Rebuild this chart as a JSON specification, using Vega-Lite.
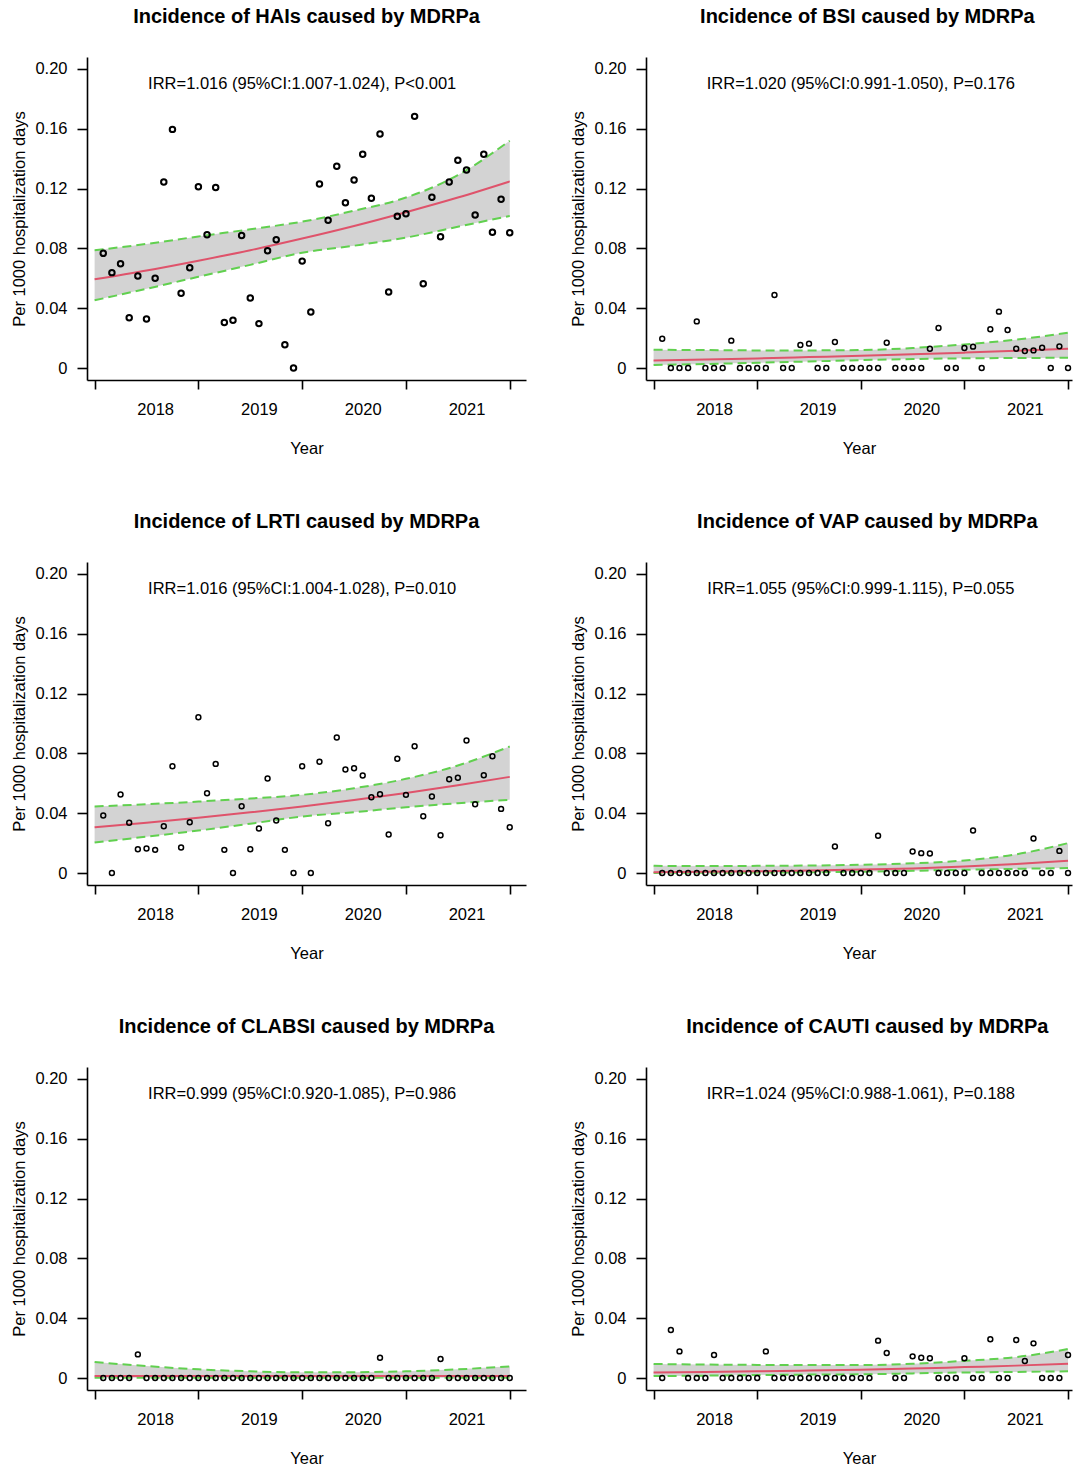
{
"$schema": "https://vega.github.io/schema/vega-lite/v6.json",
"padding": {"top": 7, "left": 11, "right": 0, "bottom": 0},
"background": "white",
"spacing": 44,
"config": {
 "view": {"stroke": null},
 "font": "Liberation Sans",
 "axis": {"grid": false, "domainColor": "black", "tickColor": "black", "domainWidth": 1.6, "tickWidth": 1.6, "labelColor": "black", "labelFontSize": 16.5, "labelFont": "Liberation Sans", "titleFont": "Liberation Sans", "titleFontSize": 16.5, "titleFontWeight": "normal", "titleColor": "black"}
},
"datasets": {"d": [
{"p":"HAIs","k":"a","t":"IRR=1.016 (95%CI:1.007-1.024), P<0.001"},
{"p":"BSI","k":"a","t":"IRR=1.020 (95%CI:0.991-1.050), P=0.176"},
{"p":"LRTI","k":"a","t":"IRR=1.016 (95%CI:1.004-1.028), P=0.010"},
{"p":"VAP","k":"a","t":"IRR=1.055 (95%CI:0.999-1.115), P=0.055"},
{"p":"CLABSI","k":"a","t":"IRR=0.999 (95%CI:0.920-1.085), P=0.986"},
{"p":"CAUTI","k":"a","t":"IRR=1.024 (95%CI:0.988-1.061), P=0.188"},
{"p":"HAIs","k":"f","m":0,"f":0.0593,"lo":0.0453,"hi":0.0787},
{"p":"HAIs","k":"f","m":6,"f":0.0652,"lo":0.0530,"hi":0.0830},
{"p":"HAIs","k":"f","m":12,"f":0.0718,"lo":0.0610,"hi":0.0880},
{"p":"HAIs","k":"f","m":18,"f":0.0788,"lo":0.0690,"hi":0.0928},
{"p":"HAIs","k":"f","m":24,"f":0.0866,"lo":0.0771,"hi":0.0979},
{"p":"HAIs","k":"f","m":30,"f":0.0950,"lo":0.0818,"hi":0.1052},
{"p":"HAIs","k":"f","m":36,"f":0.1042,"lo":0.0872,"hi":0.1140},
{"p":"HAIs","k":"f","m":42,"f":0.1140,"lo":0.0945,"hi":0.1290},
{"p":"HAIs","k":"f","m":48,"f":0.1248,"lo":0.1017,"hi":0.1520},
{"p":"LRTI","k":"f","m":0,"f":0.0306,"lo":0.0204,"hi":0.0445},
{"p":"LRTI","k":"f","m":6,"f":0.0336,"lo":0.0243,"hi":0.0460},
{"p":"LRTI","k":"f","m":12,"f":0.0370,"lo":0.0284,"hi":0.0478},
{"p":"LRTI","k":"f","m":18,"f":0.0406,"lo":0.0330,"hi":0.0498},
{"p":"LRTI","k":"f","m":24,"f":0.0445,"lo":0.0378,"hi":0.0523},
{"p":"LRTI","k":"f","m":30,"f":0.0488,"lo":0.0407,"hi":0.0567},
{"p":"LRTI","k":"f","m":36,"f":0.0535,"lo":0.0440,"hi":0.0630},
{"p":"LRTI","k":"f","m":42,"f":0.0587,"lo":0.0467,"hi":0.0719},
{"p":"LRTI","k":"f","m":48,"f":0.0643,"lo":0.0490,"hi":0.0846},
{"p":"BSI","k":"f","m":0,"f":0.0051,"lo":0.0020,"hi":0.0122},
{"p":"BSI","k":"f","m":6,"f":0.0057,"lo":0.0027,"hi":0.0120},
{"p":"BSI","k":"f","m":12,"f":0.0064,"lo":0.0035,"hi":0.0118},
{"p":"BSI","k":"f","m":18,"f":0.0073,"lo":0.0044,"hi":0.0118},
{"p":"BSI","k":"f","m":24,"f":0.0082,"lo":0.0053,"hi":0.0120},
{"p":"BSI","k":"f","m":30,"f":0.0092,"lo":0.0060,"hi":0.0134},
{"p":"BSI","k":"f","m":36,"f":0.0103,"lo":0.0065,"hi":0.0158},
{"p":"BSI","k":"f","m":42,"f":0.0115,"lo":0.0067,"hi":0.0190},
{"p":"BSI","k":"f","m":48,"f":0.0129,"lo":0.0069,"hi":0.0236},
{"p":"VAP","k":"f","m":0,"f":0.0006,"lo":0.0001,"hi":0.0048},
{"p":"VAP","k":"f","m":6,"f":0.0009,"lo":0.0002,"hi":0.0047},
{"p":"VAP","k":"f","m":12,"f":0.0012,"lo":0.0003,"hi":0.0048},
{"p":"VAP","k":"f","m":18,"f":0.0017,"lo":0.0005,"hi":0.0050},
{"p":"VAP","k":"f","m":24,"f":0.0023,"lo":0.0009,"hi":0.0055},
{"p":"VAP","k":"f","m":30,"f":0.0031,"lo":0.0015,"hi":0.0065},
{"p":"VAP","k":"f","m":36,"f":0.0043,"lo":0.0022,"hi":0.0084},
{"p":"VAP","k":"f","m":42,"f":0.0060,"lo":0.0028,"hi":0.0125},
{"p":"VAP","k":"f","m":48,"f":0.0082,"lo":0.0033,"hi":0.0200},
{"p":"CLABSI","k":"f","m":0,"f":0.0013,"lo":0.0002,"hi":0.0107},
{"p":"CLABSI","k":"f","m":6,"f":0.0013,"lo":0.0002,"hi":0.0080},
{"p":"CLABSI","k":"f","m":12,"f":0.0013,"lo":0.0002,"hi":0.0058},
{"p":"CLABSI","k":"f","m":18,"f":0.0013,"lo":0.0002,"hi":0.0045},
{"p":"CLABSI","k":"f","m":24,"f":0.0013,"lo":0.0002,"hi":0.0038},
{"p":"CLABSI","k":"f","m":30,"f":0.0013,"lo":0.0002,"hi":0.0039},
{"p":"CLABSI","k":"f","m":36,"f":0.0013,"lo":0.0002,"hi":0.0045},
{"p":"CLABSI","k":"f","m":42,"f":0.0013,"lo":0.0002,"hi":0.0058},
{"p":"CLABSI","k":"f","m":48,"f":0.0013,"lo":0.0002,"hi":0.0078},
{"p":"CAUTI","k":"f","m":0,"f":0.0037,"lo":0.0013,"hi":0.0094},
{"p":"CAUTI","k":"f","m":6,"f":0.0041,"lo":0.0016,"hi":0.0090},
{"p":"CAUTI","k":"f","m":12,"f":0.0045,"lo":0.0020,"hi":0.0088},
{"p":"CAUTI","k":"f","m":18,"f":0.0050,"lo":0.0023,"hi":0.0087},
{"p":"CAUTI","k":"f","m":24,"f":0.0055,"lo":0.0025,"hi":0.0087},
{"p":"CAUTI","k":"f","m":30,"f":0.0063,"lo":0.0031,"hi":0.0095},
{"p":"CAUTI","k":"f","m":36,"f":0.0073,"lo":0.0037,"hi":0.0115},
{"p":"CAUTI","k":"f","m":42,"f":0.0083,"lo":0.0041,"hi":0.0140},
{"p":"CAUTI","k":"f","m":48,"f":0.0095,"lo":0.0045,"hi":0.0194},
{"p":"HAIs","k":"o","m":1,"v":0.0767},{"p":"HAIs","k":"o","m":2,"v":0.0638},{"p":"HAIs","k":"o","m":3,"v":0.0698},{"p":"HAIs","k":"o","m":4,"v":0.0337},
{"p":"HAIs","k":"o","m":5,"v":0.0615},{"p":"HAIs","k":"o","m":6,"v":0.0328},{"p":"HAIs","k":"o","m":7,"v":0.0600},{"p":"HAIs","k":"o","m":8,"v":0.1244},
{"p":"HAIs","k":"o","m":9,"v":0.1596},{"p":"HAIs","k":"o","m":10,"v":0.0500},{"p":"HAIs","k":"o","m":11,"v":0.0671},{"p":"HAIs","k":"o","m":12,"v":0.1213},
{"p":"HAIs","k":"o","m":13,"v":0.0892},{"p":"HAIs","k":"o","m":14,"v":0.1208},{"p":"HAIs","k":"o","m":15,"v":0.0305},{"p":"HAIs","k":"o","m":16,"v":0.0319},
{"p":"HAIs","k":"o","m":17,"v":0.0887},{"p":"HAIs","k":"o","m":18,"v":0.0468},{"p":"HAIs","k":"o","m":19,"v":0.0297},{"p":"HAIs","k":"o","m":20,"v":0.0785},
{"p":"HAIs","k":"o","m":21,"v":0.0858},{"p":"HAIs","k":"o","m":22,"v":0.0156},{"p":"HAIs","k":"o","m":23,"v":0},{"p":"HAIs","k":"o","m":24,"v":0.0715},
{"p":"HAIs","k":"o","m":25,"v":0.0375},{"p":"HAIs","k":"o","m":26,"v":0.1231},{"p":"HAIs","k":"o","m":27,"v":0.0988},{"p":"HAIs","k":"o","m":28,"v":0.1349},
{"p":"HAIs","k":"o","m":29,"v":0.1106},{"p":"HAIs","k":"o","m":30,"v":0.1258},{"p":"HAIs","k":"o","m":31,"v":0.1429},{"p":"HAIs","k":"o","m":32,"v":0.1135},
{"p":"HAIs","k":"o","m":33,"v":0.1565},{"p":"HAIs","k":"o","m":34,"v":0.0508},{"p":"HAIs","k":"o","m":35,"v":0.1015},{"p":"HAIs","k":"o","m":36,"v":0.1032},
{"p":"HAIs","k":"o","m":37,"v":0.1683},{"p":"HAIs","k":"o","m":38,"v":0.0564},{"p":"HAIs","k":"o","m":39,"v":0.1142},{"p":"HAIs","k":"o","m":40,"v":0.0878},
{"p":"HAIs","k":"o","m":41,"v":0.1244},{"p":"HAIs","k":"o","m":42,"v":0.1389},{"p":"HAIs","k":"o","m":43,"v":0.1324},{"p":"HAIs","k":"o","m":44,"v":0.1023},
{"p":"HAIs","k":"o","m":45,"v":0.1429},{"p":"HAIs","k":"o","m":46,"v":0.0908},{"p":"HAIs","k":"o","m":47,"v":0.1128},{"p":"HAIs","k":"o","m":48,"v":0.0905},
{"p":"LRTI","k":"o","m":1,"v":0.0385},{"p":"LRTI","k":"o","m":2,"v":0},{"p":"LRTI","k":"o","m":3,"v":0.0525},{"p":"LRTI","k":"o","m":4,"v":0.0336},
{"p":"LRTI","k":"o","m":5,"v":0.0159},{"p":"LRTI","k":"o","m":6,"v":0.0164},{"p":"LRTI","k":"o","m":7,"v":0.0155},{"p":"LRTI","k":"o","m":8,"v":0.0313},
{"p":"LRTI","k":"o","m":9,"v":0.0714},{"p":"LRTI","k":"o","m":10,"v":0.0171},{"p":"LRTI","k":"o","m":11,"v":0.0340},{"p":"LRTI","k":"o","m":12,"v":0.1042},
{"p":"LRTI","k":"o","m":13,"v":0.0534},{"p":"LRTI","k":"o","m":14,"v":0.0730},{"p":"LRTI","k":"o","m":15,"v":0.0155},{"p":"LRTI","k":"o","m":16,"v":0},
{"p":"LRTI","k":"o","m":17,"v":0.0447},{"p":"LRTI","k":"o","m":18,"v":0.0159},{"p":"LRTI","k":"o","m":19,"v":0.0298},{"p":"LRTI","k":"o","m":20,"v":0.0632},
{"p":"LRTI","k":"o","m":21,"v":0.0351},{"p":"LRTI","k":"o","m":22,"v":0.0155},{"p":"LRTI","k":"o","m":23,"v":0},{"p":"LRTI","k":"o","m":24,"v":0.0714},
{"p":"LRTI","k":"o","m":25,"v":0},{"p":"LRTI","k":"o","m":26,"v":0.0744},{"p":"LRTI","k":"o","m":27,"v":0.0333},{"p":"LRTI","k":"o","m":28,"v":0.0906},
{"p":"LRTI","k":"o","m":29,"v":0.0692},{"p":"LRTI","k":"o","m":30,"v":0.0701},{"p":"LRTI","k":"o","m":31,"v":0.0652},{"p":"LRTI","k":"o","m":32,"v":0.0507},
{"p":"LRTI","k":"o","m":33,"v":0.0527},{"p":"LRTI","k":"o","m":34,"v":0.0258},{"p":"LRTI","k":"o","m":35,"v":0.0764},{"p":"LRTI","k":"o","m":36,"v":0.0523},
{"p":"LRTI","k":"o","m":37,"v":0.0848},{"p":"LRTI","k":"o","m":38,"v":0.0380},{"p":"LRTI","k":"o","m":39,"v":0.0512},{"p":"LRTI","k":"o","m":40,"v":0.0253},
{"p":"LRTI","k":"o","m":41,"v":0.0627},{"p":"LRTI","k":"o","m":42,"v":0.0637},{"p":"LRTI","k":"o","m":43,"v":0.0886},{"p":"LRTI","k":"o","m":44,"v":0.0460},
{"p":"LRTI","k":"o","m":45,"v":0.0654},{"p":"LRTI","k":"o","m":46,"v":0.0781},{"p":"LRTI","k":"o","m":47,"v":0.0429},{"p":"LRTI","k":"o","m":48,"v":0.0306},
{"p":"BSI","k":"o","m":1,"v":0.0196},{"p":"BSI","k":"o","m":2,"v":0},{"p":"BSI","k":"o","m":3,"v":0},{"p":"BSI","k":"o","m":4,"v":0},
{"p":"BSI","k":"o","m":5,"v":0.0312},{"p":"BSI","k":"o","m":6,"v":0},{"p":"BSI","k":"o","m":7,"v":0},{"p":"BSI","k":"o","m":8,"v":0},
{"p":"BSI","k":"o","m":9,"v":0.0183},{"p":"BSI","k":"o","m":10,"v":0},{"p":"BSI","k":"o","m":11,"v":0},{"p":"BSI","k":"o","m":12,"v":0},
{"p":"BSI","k":"o","m":13,"v":0},{"p":"BSI","k":"o","m":14,"v":0.0488},{"p":"BSI","k":"o","m":15,"v":0},{"p":"BSI","k":"o","m":16,"v":0},
{"p":"BSI","k":"o","m":17,"v":0.0154},{"p":"BSI","k":"o","m":18,"v":0.0163},{"p":"BSI","k":"o","m":19,"v":0},{"p":"BSI","k":"o","m":20,"v":0},
{"p":"BSI","k":"o","m":21,"v":0.0174},{"p":"BSI","k":"o","m":22,"v":0},{"p":"BSI","k":"o","m":23,"v":0},{"p":"BSI","k":"o","m":24,"v":0},
{"p":"BSI","k":"o","m":25,"v":0},{"p":"BSI","k":"o","m":26,"v":0},{"p":"BSI","k":"o","m":27,"v":0.0169},{"p":"BSI","k":"o","m":28,"v":0},
{"p":"BSI","k":"o","m":29,"v":0},{"p":"BSI","k":"o","m":30,"v":0},{"p":"BSI","k":"o","m":31,"v":0},{"p":"BSI","k":"o","m":32,"v":0.0129},
{"p":"BSI","k":"o","m":33,"v":0.0268},{"p":"BSI","k":"o","m":34,"v":0},{"p":"BSI","k":"o","m":35,"v":0},{"p":"BSI","k":"o","m":36,"v":0.0134},
{"p":"BSI","k":"o","m":37,"v":0.0143},{"p":"BSI","k":"o","m":38,"v":0},{"p":"BSI","k":"o","m":39,"v":0.0259},{"p":"BSI","k":"o","m":40,"v":0.0377},
{"p":"BSI","k":"o","m":41,"v":0.0254},{"p":"BSI","k":"o","m":42,"v":0.0129},{"p":"BSI","k":"o","m":43,"v":0.0114},{"p":"BSI","k":"o","m":44,"v":0.0118},
{"p":"BSI","k":"o","m":45,"v":0.0136},{"p":"BSI","k":"o","m":46,"v":0},{"p":"BSI","k":"o","m":47,"v":0.0145},{"p":"BSI","k":"o","m":48,"v":0},
{"p":"VAP","k":"o","m":1,"v":0},{"p":"VAP","k":"o","m":2,"v":0},{"p":"VAP","k":"o","m":3,"v":0},{"p":"VAP","k":"o","m":4,"v":0},
{"p":"VAP","k":"o","m":5,"v":0},{"p":"VAP","k":"o","m":6,"v":0},{"p":"VAP","k":"o","m":7,"v":0},{"p":"VAP","k":"o","m":8,"v":0},
{"p":"VAP","k":"o","m":9,"v":0},{"p":"VAP","k":"o","m":10,"v":0},{"p":"VAP","k":"o","m":11,"v":0},{"p":"VAP","k":"o","m":12,"v":0},
{"p":"VAP","k":"o","m":13,"v":0},{"p":"VAP","k":"o","m":14,"v":0},{"p":"VAP","k":"o","m":15,"v":0},{"p":"VAP","k":"o","m":16,"v":0},
{"p":"VAP","k":"o","m":17,"v":0},{"p":"VAP","k":"o","m":18,"v":0},{"p":"VAP","k":"o","m":19,"v":0},{"p":"VAP","k":"o","m":20,"v":0},
{"p":"VAP","k":"o","m":21,"v":0.0177},{"p":"VAP","k":"o","m":22,"v":0},{"p":"VAP","k":"o","m":23,"v":0},{"p":"VAP","k":"o","m":24,"v":0},
{"p":"VAP","k":"o","m":25,"v":0},{"p":"VAP","k":"o","m":26,"v":0.0249},{"p":"VAP","k":"o","m":27,"v":0},{"p":"VAP","k":"o","m":28,"v":0},
{"p":"VAP","k":"o","m":29,"v":0},{"p":"VAP","k":"o","m":30,"v":0.0144},{"p":"VAP","k":"o","m":31,"v":0.0133},{"p":"VAP","k":"o","m":32,"v":0.0131},
{"p":"VAP","k":"o","m":33,"v":0},{"p":"VAP","k":"o","m":34,"v":0},{"p":"VAP","k":"o","m":35,"v":0},{"p":"VAP","k":"o","m":36,"v":0},
{"p":"VAP","k":"o","m":37,"v":0.0284},{"p":"VAP","k":"o","m":38,"v":0},{"p":"VAP","k":"o","m":39,"v":0},{"p":"VAP","k":"o","m":40,"v":0},
{"p":"VAP","k":"o","m":41,"v":0},{"p":"VAP","k":"o","m":42,"v":0},{"p":"VAP","k":"o","m":43,"v":0},{"p":"VAP","k":"o","m":44,"v":0.0231},
{"p":"VAP","k":"o","m":45,"v":0},{"p":"VAP","k":"o","m":46,"v":0},{"p":"VAP","k":"o","m":47,"v":0.0148},{"p":"VAP","k":"o","m":48,"v":0},
{"p":"CLABSI","k":"o","m":1,"v":0},{"p":"CLABSI","k":"o","m":2,"v":0},{"p":"CLABSI","k":"o","m":3,"v":0},{"p":"CLABSI","k":"o","m":4,"v":0},
{"p":"CLABSI","k":"o","m":5,"v":0.0158},{"p":"CLABSI","k":"o","m":6,"v":0},{"p":"CLABSI","k":"o","m":7,"v":0},{"p":"CLABSI","k":"o","m":8,"v":0},
{"p":"CLABSI","k":"o","m":9,"v":0},{"p":"CLABSI","k":"o","m":10,"v":0},{"p":"CLABSI","k":"o","m":11,"v":0},{"p":"CLABSI","k":"o","m":12,"v":0},
{"p":"CLABSI","k":"o","m":13,"v":0},{"p":"CLABSI","k":"o","m":14,"v":0},{"p":"CLABSI","k":"o","m":15,"v":0},{"p":"CLABSI","k":"o","m":16,"v":0},
{"p":"CLABSI","k":"o","m":17,"v":0},{"p":"CLABSI","k":"o","m":18,"v":0},{"p":"CLABSI","k":"o","m":19,"v":0},{"p":"CLABSI","k":"o","m":20,"v":0},
{"p":"CLABSI","k":"o","m":21,"v":0},{"p":"CLABSI","k":"o","m":22,"v":0},{"p":"CLABSI","k":"o","m":23,"v":0},{"p":"CLABSI","k":"o","m":24,"v":0},
{"p":"CLABSI","k":"o","m":25,"v":0},{"p":"CLABSI","k":"o","m":26,"v":0},{"p":"CLABSI","k":"o","m":27,"v":0},{"p":"CLABSI","k":"o","m":28,"v":0},
{"p":"CLABSI","k":"o","m":29,"v":0},{"p":"CLABSI","k":"o","m":30,"v":0},{"p":"CLABSI","k":"o","m":31,"v":0},{"p":"CLABSI","k":"o","m":32,"v":0},
{"p":"CLABSI","k":"o","m":33,"v":0.0136},{"p":"CLABSI","k":"o","m":34,"v":0},{"p":"CLABSI","k":"o","m":35,"v":0},{"p":"CLABSI","k":"o","m":36,"v":0},
{"p":"CLABSI","k":"o","m":37,"v":0},{"p":"CLABSI","k":"o","m":38,"v":0},{"p":"CLABSI","k":"o","m":39,"v":0},{"p":"CLABSI","k":"o","m":40,"v":0.0127},
{"p":"CLABSI","k":"o","m":41,"v":0},{"p":"CLABSI","k":"o","m":42,"v":0},{"p":"CLABSI","k":"o","m":43,"v":0},{"p":"CLABSI","k":"o","m":44,"v":0},
{"p":"CLABSI","k":"o","m":45,"v":0},{"p":"CLABSI","k":"o","m":46,"v":0},{"p":"CLABSI","k":"o","m":47,"v":0},{"p":"CLABSI","k":"o","m":48,"v":0},
{"p":"CAUTI","k":"o","m":1,"v":0},{"p":"CAUTI","k":"o","m":2,"v":0.0321},{"p":"CAUTI","k":"o","m":3,"v":0.0178},{"p":"CAUTI","k":"o","m":4,"v":0},
{"p":"CAUTI","k":"o","m":5,"v":0},{"p":"CAUTI","k":"o","m":6,"v":0},{"p":"CAUTI","k":"o","m":7,"v":0.0154},{"p":"CAUTI","k":"o","m":8,"v":0},
{"p":"CAUTI","k":"o","m":9,"v":0},{"p":"CAUTI","k":"o","m":10,"v":0},{"p":"CAUTI","k":"o","m":11,"v":0},{"p":"CAUTI","k":"o","m":12,"v":0},
{"p":"CAUTI","k":"o","m":13,"v":0.0178},{"p":"CAUTI","k":"o","m":14,"v":0},{"p":"CAUTI","k":"o","m":15,"v":0},{"p":"CAUTI","k":"o","m":16,"v":0},
{"p":"CAUTI","k":"o","m":17,"v":0},{"p":"CAUTI","k":"o","m":18,"v":0},{"p":"CAUTI","k":"o","m":19,"v":0},{"p":"CAUTI","k":"o","m":20,"v":0},
{"p":"CAUTI","k":"o","m":21,"v":0},{"p":"CAUTI","k":"o","m":22,"v":0},{"p":"CAUTI","k":"o","m":23,"v":0},{"p":"CAUTI","k":"o","m":24,"v":0},
{"p":"CAUTI","k":"o","m":25,"v":0},{"p":"CAUTI","k":"o","m":26,"v":0.0250},{"p":"CAUTI","k":"o","m":27,"v":0.0167},{"p":"CAUTI","k":"o","m":28,"v":0},
{"p":"CAUTI","k":"o","m":29,"v":0},{"p":"CAUTI","k":"o","m":30,"v":0.0145},{"p":"CAUTI","k":"o","m":31,"v":0.0136},{"p":"CAUTI","k":"o","m":32,"v":0.0132},
{"p":"CAUTI","k":"o","m":33,"v":0},{"p":"CAUTI","k":"o","m":34,"v":0},{"p":"CAUTI","k":"o","m":35,"v":0},{"p":"CAUTI","k":"o","m":36,"v":0.0132},
{"p":"CAUTI","k":"o","m":37,"v":0},{"p":"CAUTI","k":"o","m":38,"v":0},{"p":"CAUTI","k":"o","m":39,"v":0.0259},{"p":"CAUTI","k":"o","m":40,"v":0},
{"p":"CAUTI","k":"o","m":41,"v":0},{"p":"CAUTI","k":"o","m":42,"v":0.0254},{"p":"CAUTI","k":"o","m":43,"v":0.0114},{"p":"CAUTI","k":"o","m":44,"v":0.0232},
{"p":"CAUTI","k":"o","m":45,"v":0},{"p":"CAUTI","k":"o","m":46,"v":0},{"p":"CAUTI","k":"o","m":47,"v":0},{"p":"CAUTI","k":"o","m":48,"v":0.0154}
]},
"hconcat": [
{
 "data": {"name": "d"},
 "transform": [{"filter": "indexof(['HAIs','LRTI','CLABSI'], datum.p) >= 0"}],
 "facet": {"field": "p", "type": "nominal", "title": null, "sort": ["HAIs","LRTI","CLABSI"],
   "header": {"labelExpr": "'Incidence of ' + datum.value + ' caused by MDRPa'", "labelFontSize": 20, "labelFontWeight": "bold", "labelFont": "Liberation Sans", "labelColor": "black", "labelPadding": 30}},
 "columns": 1,
 "spacing": 55,
 "resolve": {"axis": {"x": "independent", "y": "independent"}},
 "spec": {
  "width": 439, "height": 323,
  "layer": [
   {"transform": [{"filter": "datum.k == 'f'"}], "mark": {"type": "area", "color": "#D3D3D3", "interpolate": "monotone"},
    "encoding": {
     "x": {"field": "m", "type": "quantitative", "title": "Year",
       "scale": {"domain": [-0.88, 49.88], "nice": false, "zero": false},
       "axis": {"values": [0,7,12,19,24,31,36,43,48], "labelExpr": "datum.value % 12 == 7 ? '' + (2018 + (datum.value - 7) / 12) : ''", "tickOpacity": {"condition": {"test": "datum.value % 12 == 0", "value": 1}, "value": 0}, "labelFlush": false, "labelOverlap": false, "labelPadding": 12, "titlePadding": 23, "tickSize": 9}},
     "y": {"field": "lo", "type": "quantitative", "title": "Per 1000 hospitalization days",
       "scale": {"domain": [-0.008, 0.208], "nice": false, "zero": false},
       "axis": {"values": [0,0.04,0.08,0.12,0.16,0.2], "labelExpr": "datum.value == 0 ? '0' : format(datum.value, '.2f')", "titlePadding": 7, "labelPadding": 10, "tickSize": 10, "labelOverlap": false}},
     "y2": {"field": "hi"}}},
   {"transform": [{"filter": "datum.k == 'f'"}], "mark": {"type": "line", "color": "#61D04F", "strokeWidth": 2, "strokeDash": [9,5], "interpolate": "monotone"},
    "encoding": {"x": {"field": "m", "type": "quantitative", "title": "Year"}, "y": {"field": "hi", "type": "quantitative", "title": "Per 1000 hospitalization days"}}},
   {"transform": [{"filter": "datum.k == 'f'"}], "mark": {"type": "line", "color": "#61D04F", "strokeWidth": 2, "strokeDash": [9,5], "interpolate": "monotone"},
    "encoding": {"x": {"field": "m", "type": "quantitative", "title": "Year"}, "y": {"field": "lo", "type": "quantitative", "title": "Per 1000 hospitalization days"}}},
   {"transform": [{"filter": "datum.k == 'f'"}], "mark": {"type": "line", "color": "#DF536B", "strokeWidth": 2, "interpolate": "monotone"},
    "encoding": {"x": {"field": "m", "type": "quantitative", "title": "Year"}, "y": {"field": "f", "type": "quantitative", "title": "Per 1000 hospitalization days"}}},
   {"transform": [{"filter": "datum.k == 'o'"}], "mark": {"type": "point", "shape": "circle", "filled": false, "color": "black", "opacity": 1},
    "encoding": {"x": {"field": "m", "type": "quantitative", "title": "Year"}, "y": {"field": "v", "type": "quantitative", "title": "Per 1000 hospitalization days"},
     "size": {"condition": {"test": "datum.p == 'HAIs'", "value": 30}, "value": 24},
     "strokeWidth": {"condition": {"test": "datum.p == 'HAIs'", "value": 2}, "value": 1.5}}},
   {"transform": [{"filter": "datum.k == 'a'"}], "mark": {"type": "text", "fontSize": 16.5, "font": "Liberation Sans", "color": "black", "baseline": "middle", "align": "center"},
    "encoding": {"x": {"datum": 24}, "y": {"datum": 0.19}, "text": {"field": "t"}}}
  ]
 }
},
{
 "data": {"name": "d"},
 "transform": [{"filter": "indexof(['BSI','VAP','CAUTI'], datum.p) >= 0"}],
 "facet": {"field": "p", "type": "nominal", "title": null, "sort": ["BSI","VAP","CAUTI"],
   "header": {"labelExpr": "'\u200b\u00a0\u00a0\u00a0Incidence of ' + datum.value + ' caused by MDRPa'", "labelFontSize": 20, "labelFontWeight": "bold", "labelFont": "Liberation Sans", "labelColor": "black", "labelPadding": 30}},
 "columns": 1,
 "spacing": 55,
 "resolve": {"axis": {"x": "independent", "y": "independent"}},
 "spec": {
  "width": 426, "height": 323,
  "layer": [
   {"transform": [{"filter": "datum.k == 'f'"}], "mark": {"type": "area", "color": "#D3D3D3", "interpolate": "monotone"},
    "encoding": {
     "x": {"field": "m", "type": "quantitative", "title": "Year",
       "scale": {"domain": [-0.88, 48.46], "nice": false, "zero": false},
       "axis": {"values": [0,7,12,19,24,31,36,43,48], "labelExpr": "datum.value % 12 == 7 ? '' + (2018 + (datum.value - 7) / 12) : ''", "tickOpacity": {"condition": {"test": "datum.value % 12 == 0", "value": 1}, "value": 0}, "labelFlush": false, "labelOverlap": false, "labelPadding": 12, "titlePadding": 23, "tickSize": 9}},
     "y": {"field": "lo", "type": "quantitative", "title": "Per 1000 hospitalization days",
       "scale": {"domain": [-0.008, 0.208], "nice": false, "zero": false},
       "axis": {"values": [0,0.04,0.08,0.12,0.16,0.2], "labelExpr": "datum.value == 0 ? '0' : format(datum.value, '.2f')", "titlePadding": 7, "labelPadding": 10, "tickSize": 10, "labelOverlap": false}},
     "y2": {"field": "hi"}}},
   {"transform": [{"filter": "datum.k == 'f'"}], "mark": {"type": "line", "color": "#61D04F", "strokeWidth": 2, "strokeDash": [9,5], "interpolate": "monotone"},
    "encoding": {"x": {"field": "m", "type": "quantitative", "title": "Year"}, "y": {"field": "hi", "type": "quantitative", "title": "Per 1000 hospitalization days"}}},
   {"transform": [{"filter": "datum.k == 'f'"}], "mark": {"type": "line", "color": "#61D04F", "strokeWidth": 2, "strokeDash": [9,5], "interpolate": "monotone"},
    "encoding": {"x": {"field": "m", "type": "quantitative", "title": "Year"}, "y": {"field": "lo", "type": "quantitative", "title": "Per 1000 hospitalization days"}}},
   {"transform": [{"filter": "datum.k == 'f'"}], "mark": {"type": "line", "color": "#DF536B", "strokeWidth": 2, "interpolate": "monotone"},
    "encoding": {"x": {"field": "m", "type": "quantitative", "title": "Year"}, "y": {"field": "f", "type": "quantitative", "title": "Per 1000 hospitalization days"}}},
   {"transform": [{"filter": "datum.k == 'o'"}], "mark": {"type": "point", "shape": "circle", "filled": false, "color": "black", "opacity": 1},
    "encoding": {"x": {"field": "m", "type": "quantitative", "title": "Year"}, "y": {"field": "v", "type": "quantitative", "title": "Per 1000 hospitalization days"},
     "size": {"value": 24}, "strokeWidth": {"value": 1.5}}},
   {"transform": [{"filter": "datum.k == 'a'"}], "mark": {"type": "text", "fontSize": 16.5, "font": "Liberation Sans", "color": "black", "baseline": "middle", "align": "center"},
    "encoding": {"x": {"datum": 24}, "y": {"datum": 0.19}, "text": {"field": "t"}}}
  ]
 }
}
]
}
